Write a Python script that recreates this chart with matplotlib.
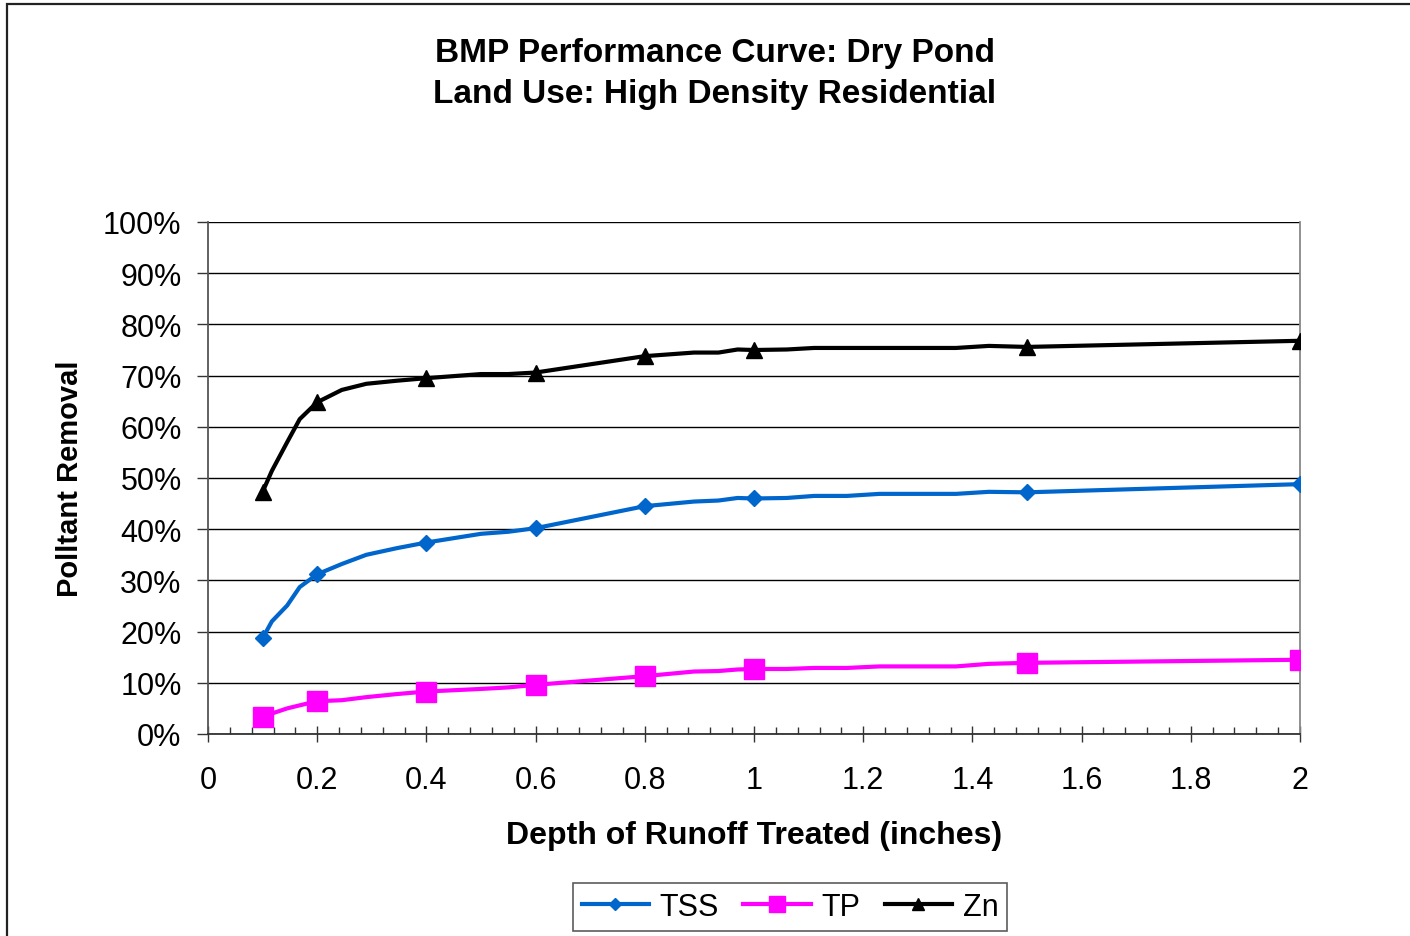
import matplotlib
matplotlib.use("Agg")
import matplotlib.pyplot as plt
from matplotlib.patches import Rectangle
from matplotlib.lines import Line2D
from matplotlib.ticker import MultipleLocator, FuncFormatter

# marker points
depth = [0.1, 0.2, 0.4, 0.6, 0.8, 1.0, 1.5, 2.0]
tss = [18.7, 31.2, 37.4, 40.2, 44.5, 46.0, 47.2, 48.8]
tp = [3.3, 6.4, 8.3, 9.6, 11.3, 12.7, 13.9, 14.5]
zn = [47.3, 64.8, 69.5, 70.6, 73.8, 75.0, 75.6, 76.8]

# smoothed curve as it is drawn in the picture
depth_curve = [0.1, 0.117, 0.145, 0.168, 0.2, 0.245, 0.29, 0.346, 0.4, 0.5, 0.55, 0.6,
               0.8, 0.89, 0.935, 0.97, 1.0, 1.06, 1.11, 1.17, 1.23, 1.37, 1.43, 1.5, 2.0]
tss_curve = [18.7, 22.0, 25.1, 28.7, 31.2, 33.2, 35.0, 36.3, 37.4, 39.1, 39.5, 40.2,
             44.5, 45.4, 45.6, 46.1, 46.0, 46.1, 46.5, 46.5, 46.9, 46.9, 47.3, 47.2, 48.8]
tp_curve = [3.3, 4.0, 5.0, 5.6, 6.4, 6.6, 7.2, 7.8, 8.3, 8.8, 9.1, 9.6,
            11.3, 12.2, 12.3, 12.6, 12.7, 12.7, 12.9, 12.9, 13.2, 13.2, 13.7, 13.9, 14.5]
zn_curve = [47.3, 51.4, 57.0, 61.5, 64.8, 67.2, 68.4, 69.0, 69.5, 70.3, 70.3, 70.6,
            73.8, 74.5, 74.5, 75.1, 75.0, 75.1, 75.4, 75.4, 75.4, 75.4, 75.8, 75.6, 76.8]

plt.rcParams['font.family'] = ['Liberation Sans', 'DejaVu Sans']

fig = plt.figure(figsize=(14.1, 9.37), dpi=100)
fig.patches.append(Rectangle((7 / 1410, -0.1), 1.2, 1 - 5 / 937 + 0.1, transform=fig.transFigure,
                             fill=False, edgecolor='#222222', linewidth=1.6))

ax = fig.add_axes([208 / 1410, 1 - 735 / 937, (1300 - 208) / 1410, (735 - 223) / 937])

series = [
    ('TSS', tss_curve, tss, '#0066CC', 'D', 8),
    ('TP', tp_curve, tp, '#FF00FF', 's', 14),
    ('Zn', zn_curve, zn, 'black', '^', 11),
]
for name, curve, pts, color, marker, ms in series:
    ax.plot(depth_curve, curve, color=color, linewidth=3.0, solid_joinstyle='round', zorder=3)
    ax.plot(depth, pts, linestyle='none', marker=marker, markersize=ms, color=color, zorder=4)

ax.set_xlim(0, 2)
ax.set_ylim(0, 100)
ax.xaxis.set_major_locator(MultipleLocator(0.2))
ax.xaxis.set_minor_locator(MultipleLocator(0.04))
ax.yaxis.set_major_locator(MultipleLocator(10))
ax.xaxis.set_major_formatter(FuncFormatter(lambda v, p: f"{v:g}"))
ax.yaxis.set_major_formatter(FuncFormatter(lambda v, p: f"{v:.0f}%"))
ax.grid(axis='y', color='black', linewidth=1.0)
ax.set_axisbelow(True)

ax.spines['top'].set_visible(False)
ax.spines['left'].set_color('#555555')
ax.spines['right'].set_color('#888888')
ax.spines['bottom'].set_color('#333333')
for s in ax.spines.values():
    s.set_linewidth(1.3)

ax.tick_params(axis='y', which='major', direction='out', length=8, width=1, labelsize=22, pad=11, color='#333333')
ax.tick_params(axis='x', which='major', direction='inout', length=12, width=1, labelsize=22, pad=16, color='#333333')
ax.tick_params(axis='x', which='minor', direction='in', length=5, width=1, color='#333333')

ax.set_xlabel("Depth of Runoff Treated (inches)", fontsize=23, fontweight='bold', labelpad=18)
ax.set_ylabel("Polltant Removal", fontsize=21, fontweight='bold', labelpad=14)

fig.text(715 / 1410, 1 - 74 / 937, "BMP Performance Curve: Dry Pond\nLand Use: High Density Residential",
         ha='center', va='center', fontsize=24, fontweight='bold', linespacing=1.45)

handles = [Line2D([], [], color=c, linewidth=3.0, marker=m, markersize=ms * 0.8)
           for _, _, _, c, m, ms in series]
leg = fig.legend(handles, [s[0] for s in series], loc='center', bbox_to_anchor=(790 / 1410, 1 - 908 / 937),
                 ncol=3, fontsize=22, frameon=True, fancybox=False, edgecolor='#333333',
                 handlelength=2.2, handletextpad=0.35, columnspacing=0.8, borderpad=0.3)
leg.get_frame().set_linewidth(1.2)

fig.savefig("out.png", dpi=100, facecolor='white')
